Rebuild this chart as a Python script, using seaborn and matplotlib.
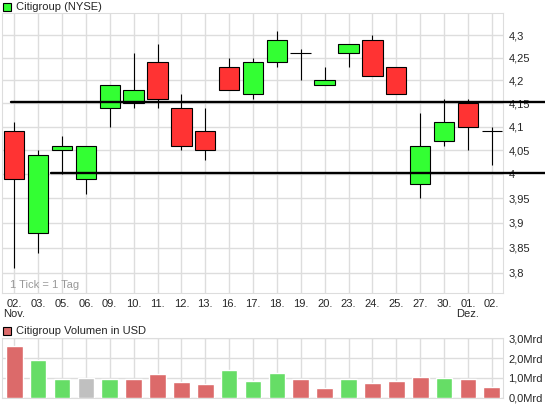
import matplotlib
matplotlib.use('Agg')
import matplotlib.pyplot as plt
import matplotlib.ticker as mticker
from matplotlib.patches import Rectangle
import seaborn as sns
import pandas as pd

sns.set_style('white')
plt.rcParams['font.family'] = ['Liberation Sans', 'DejaVu Sans']

# daily candles, Citigroup (NYSE), Nov/Dez
days = ["02.", "03.", "05.", "06.", "09.", "10.", "11.", "12.", "13.", "16.", "17.",
        "18.", "19.", "20.", "23.", "24.", "25.", "27.", "30.", "01.", "02."]
opens = [4.09, 3.88, 4.05, 3.99, 4.14, 4.15, 4.24, 4.14, 4.09, 4.23, 4.17,
         4.24, 4.26, 4.19, 4.26, 4.29, 4.23, 3.98, 4.07, 4.15, 4.09]
closes = [3.99, 4.04, 4.06, 4.06, 4.19, 4.18, 4.16, 4.06, 4.05, 4.18, 4.24,
          4.29, 4.26, 4.20, 4.28, 4.21, 4.17, 4.06, 4.11, 4.10, 4.09]
highs = [4.11, 4.05, 4.08, 4.06, 4.19, 4.26, 4.28, 4.17, 4.14, 4.25, 4.25,
         4.31, 4.27, 4.23, 4.28, 4.30, 4.23, 4.13, 4.16, 4.16, 4.10]
lows = [3.81, 3.84, 4.00, 3.96, 4.10, 4.14, 4.14, 4.05, 4.03, 4.18, 4.16,
        4.23, 4.20, 4.19, 4.23, 4.21, 4.17, 3.95, 4.06, 4.05, 4.02]

# volume in Mrd USD, colour code per day
volumes = [2.61, 1.90, 0.94, 1.00, 0.94, 0.94, 1.20, 0.79, 0.69, 1.40, 0.84,
           1.25, 0.96, 0.51, 0.96, 0.74, 0.84, 1.05, 1.00, 0.94, 0.54]
vol_dir = ["r", "g", "g", "n", "g", "r", "r", "r", "r", "g", "g",
           "g", "r", "r", "g", "r", "r", "r", "g", "r", "r"]

# support / resistance lines
levels = [4.153, 4.003]
level_start = [-0.14, 1.54]

price_ticks = [3.8, 3.85, 3.9, 3.95, 4.0, 4.05, 4.1, 4.15, 4.2, 4.25, 4.3]
vol_ticks = [0, 1, 2, 3]

GRID = '#dddddd'
UP, DOWN = '#33ff33', '#ff3333'
VCOL = {"r": '#dc6a6a', "g": '#66dd66', "n": '#c0c0c0'}
FS = 8

W, H = 545, 407
fig = plt.figure(figsize=(W / 100, H / 100), dpi=100)
ax = fig.add_axes([2.3 / W, 1 - 293.3 / H, 500.7 / W, 280 / H])
axv = fig.add_axes([2.3 / W, 1 - 397.7 / H, 500.7 / W, 59.4 / H])

n = len(days)
xs = list(range(n))

# ---- candles
ax.set_yscale('log')
ax.vlines(xs, lows, highs, color='black', lw=0.8, zorder=2)
for i in xs:
    o, c = opens[i], closes[i]
    if abs(o - c) < 1e-9:
        ax.hlines(o, i - 0.43, i + 0.43, color='black', lw=0.8, zorder=3)
    else:
        ax.bar(i, abs(c - o), bottom=min(o, c), width=0.85,
               color=UP if c > o else DOWN, edgecolor='black', lw=0.8, zorder=3)

for lv, x0 in zip(levels, level_start):
    ax.plot([x0, 22.4], [lv, lv], color='black', lw=1.7, clip_on=False, zorder=5)

ax.set_xlim(-0.5, 20.47)
ax.set_ylim(3.76, 4.349)
ax.yaxis.set_major_locator(mticker.FixedLocator(price_ticks))
ax.yaxis.set_minor_locator(mticker.NullLocator())
ax.set_yticklabels([f"{t:g}".replace('.', ',') for t in price_ticks])
ax.yaxis.tick_right()
ax.set_xticks(xs)
xl = list(days)
xl[0] = "02.\nNov."
xl[19] = "01.\nDez."
ax.set_xticklabels(xl, linespacing=1.05, va='top')
ax.tick_params(length=0, labelsize=FS, pad=4)
ax.grid(True, color=GRID, lw=1.0)
ax.set_axisbelow(True)
for s in ax.spines.values():
    s.set_color(GRID)
ax.text(0.016, 0.012, "1 Tick = 1 Tag", transform=ax.transAxes,
        color='#999999', fontsize=FS, va='bottom')

# ---- volume
dfv = pd.DataFrame({"day": [f"d{i}" for i in xs], "vol": volumes, "dir": vol_dir})
pal = {f"d{i}": VCOL[d] for i, d in zip(xs, vol_dir)}
sns.barplot(data=dfv, x="day", y="vol", hue="day", palette=pal, legend=False,
            width=0.7, saturation=1, ax=axv, zorder=3)
axv.set_xlim(-0.5, 20.47)
axv.set_ylim(0, 3)
axv.set_yticks(vol_ticks)
axv.set_yticklabels([f"{t},0Mrd" for t in vol_ticks])
axv.yaxis.tick_right()
axv.set_xticks(xs)
axv.set_xticklabels([])
axv.set_xlabel('')
axv.set_ylabel('')
axv.tick_params(length=0, labelsize=FS, pad=4)
axv.grid(True, color=GRID, lw=1.0)
axv.set_axisbelow(True)
for s in axv.spines.values():
    s.set_color(GRID)

# ---- panel headers
fig.patches.append(Rectangle((3 / W, 1 - 11 / H), 8 / W, 8 / H, transform=fig.transFigure,
                             facecolor=UP, edgecolor='black', lw=0.8))
fig.text(16 / W, 1 - 7 / H, "Citigroup (NYSE)", fontsize=FS, va='center')
fig.patches.append(Rectangle((3 / W, 1 - 335 / H), 8 / W, 8 / H, transform=fig.transFigure,
                             facecolor=VCOL["r"], edgecolor='black', lw=0.8))
fig.text(16 / W, 1 - 331 / H, "Citigroup Volumen in USD", fontsize=FS, va='center')

fig.savefig('out.png', dpi=100)
